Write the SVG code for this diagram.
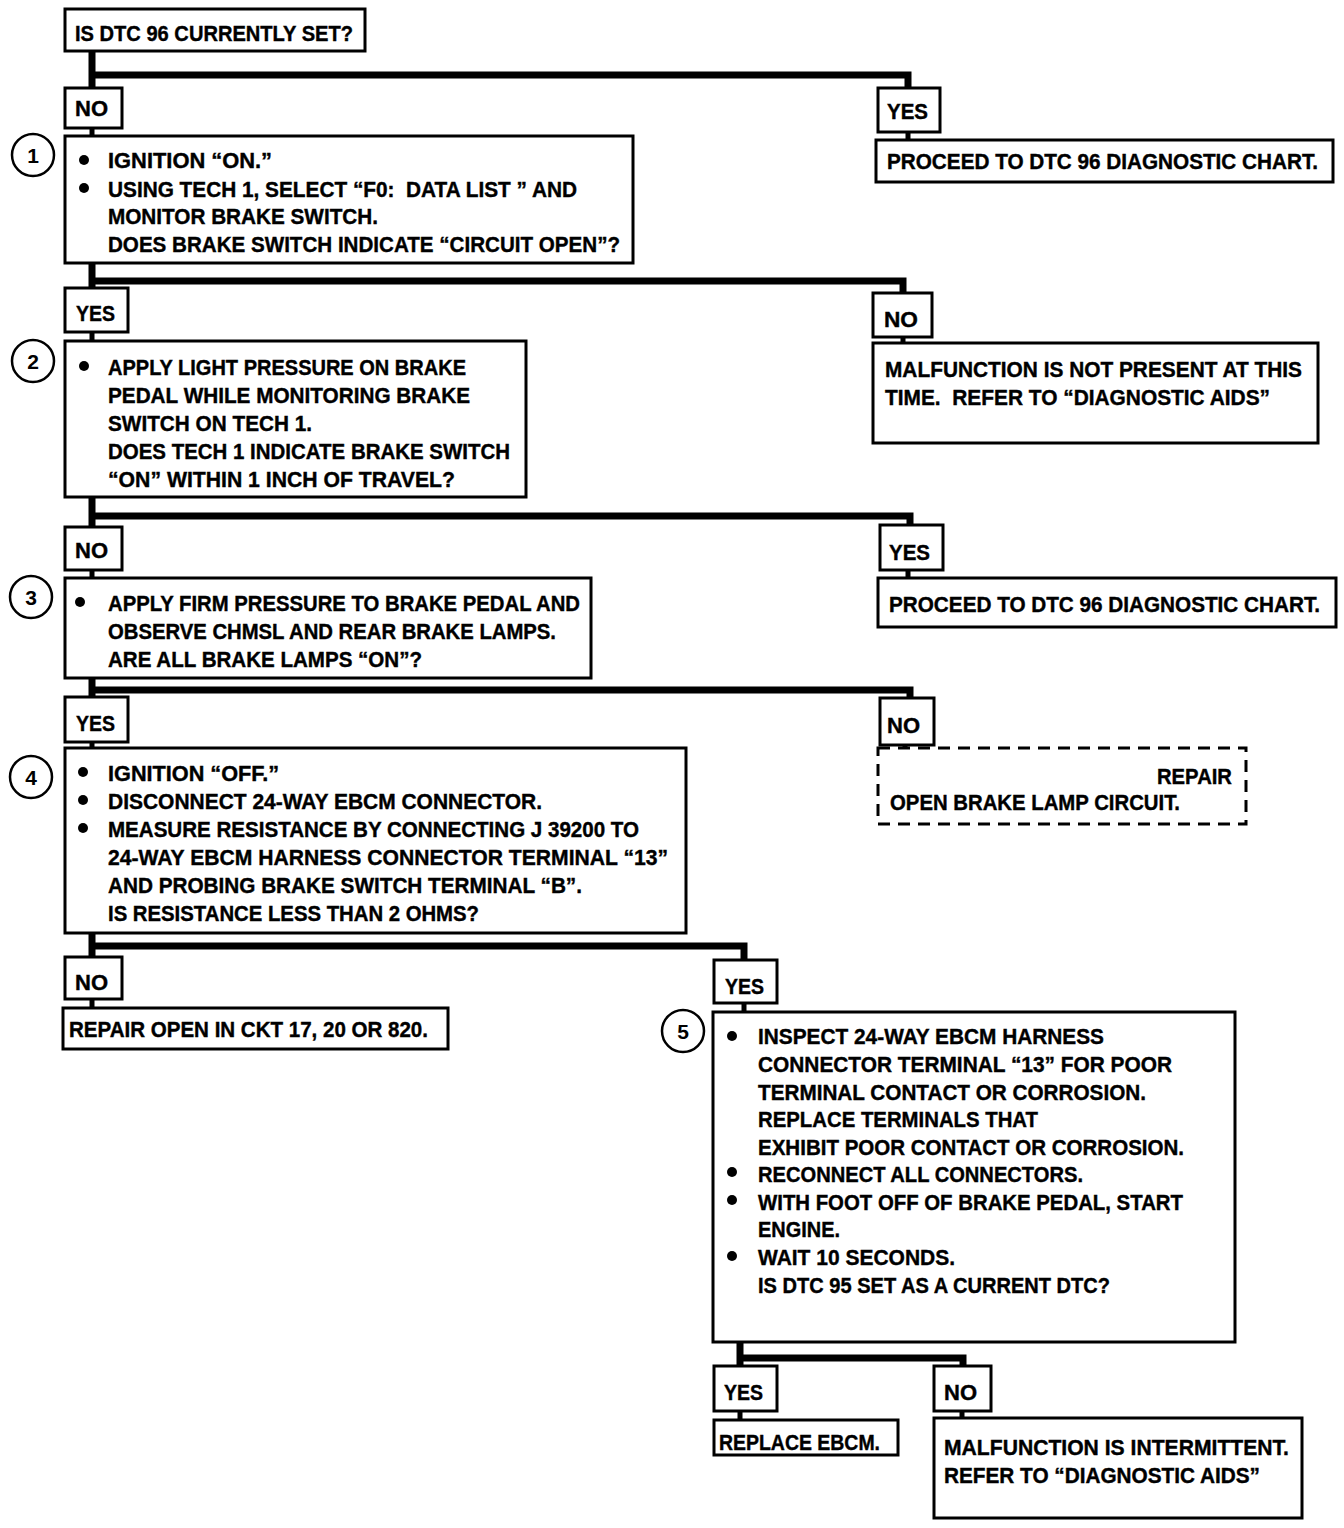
<svg xmlns="http://www.w3.org/2000/svg" width="1344" height="1528" viewBox="0 0 1344 1528">
<style>
.box{fill:#fff;stroke:#000;stroke-width:3}
.dash{fill:#fff;stroke:#000;stroke-width:3;stroke-dasharray:12 8}
.t{font-family:"Liberation Sans",Arial,sans-serif;font-weight:bold;font-size:22px;fill:#000;stroke:#000;stroke-width:0.4}
.n{font-family:"Liberation Sans",Arial,sans-serif;font-weight:bold;font-size:21px;fill:#000;text-anchor:middle}
.c{fill:#fff;stroke:#000;stroke-width:2.5}
.b{fill:#000}
.w{fill:none;stroke:#000;stroke-width:7;stroke-linecap:square}
.w2{fill:none;stroke:#000;stroke-width:5}
</style>
<rect width="1344" height="1528" fill="#fff"/>
<g id="connectors">
<path class="w" d="M92 51V88M92 75H908V88"/>
<path class="w2" d="M92 128V136M908 132V140"/>
<path class="w" d="M92 263V288M92 281H903V293"/>
<path class="w2" d="M92 332V341M903 337V343"/>
<path class="w" d="M92 497V527M92 516H910V525"/>
<path class="w2" d="M92 570V578M908 570V578"/>
<path class="w" d="M92 678V697M92 690H910V698"/>
<path class="w2" d="M92 742V748M905 745V748"/>
<path class="w" d="M92 933V957M92 946H744V960"/>
<path class="w2" d="M92 999V1008M744 1003V1012"/>
<path class="w" d="M740 1342V1366M740 1358H963V1366"/>
<path class="w2" d="M740 1411V1420M962 1411V1418"/>
</g>
<g id="start">
<rect class="box" x="65" y="9" width="300" height="42"/>
<text class="t" x="75" y="41" textLength="278" lengthAdjust="spacingAndGlyphs">IS DTC 96 CURRENTLY SET?</text>
</g>
<g id="no1">
<rect class="box" x="65" y="88" width="57" height="40"/>
<text class="t" x="75" y="116" textLength="33" lengthAdjust="spacingAndGlyphs">NO</text>
</g>
<g id="yes1">
<rect class="box" x="878" y="88" width="62" height="44"/>
<text class="t" x="887" y="119" textLength="41" lengthAdjust="spacingAndGlyphs">YES</text>
</g>
<g id="proceed1">
<rect class="box" x="876" y="140" width="457" height="42"/>
<text class="t" x="887" y="169" textLength="431" lengthAdjust="spacingAndGlyphs">PROCEED TO DTC 96 DIAGNOSTIC CHART.</text>
</g>
<g id="step1">
<circle class="c" cx="33" cy="155" r="21"/>
<text class="n" x="33" y="163">1</text>
<rect class="box" x="65" y="136" width="568" height="127"/>
<circle class="b" cx="84" cy="160" r="5"/>
<circle class="b" cx="84" cy="188" r="5"/>
<text class="t" x="108" y="168" textLength="164" lengthAdjust="spacingAndGlyphs">IGNITION “ON.”</text>
<text class="t" x="108" y="197" textLength="469" lengthAdjust="spacingAndGlyphs" xml:space="preserve">USING TECH 1, SELECT “F0:  DATA LIST ” AND</text>
<text class="t" x="108" y="224" textLength="270" lengthAdjust="spacingAndGlyphs">MONITOR BRAKE SWITCH.</text>
<text class="t" x="108" y="252" textLength="512" lengthAdjust="spacingAndGlyphs">DOES BRAKE SWITCH INDICATE “CIRCUIT OPEN”?</text>
</g>
<g id="yes2">
<rect class="box" x="65" y="288" width="63" height="44"/>
<text class="t" x="76" y="321" textLength="39" lengthAdjust="spacingAndGlyphs">YES</text>
</g>
<g id="no2">
<rect class="box" x="873" y="293" width="59" height="44"/>
<text class="t" x="884" y="327" textLength="34" lengthAdjust="spacingAndGlyphs">NO</text>
</g>
<g id="malfunction1">
<rect class="box" x="873" y="343" width="445" height="100"/>
<text class="t" x="885" y="377" textLength="417" lengthAdjust="spacingAndGlyphs">MALFUNCTION IS NOT PRESENT AT THIS</text>
<text class="t" x="885" y="405" textLength="385" lengthAdjust="spacingAndGlyphs" xml:space="preserve">TIME.  REFER TO “DIAGNOSTIC AIDS”</text>
</g>
<g id="step2">
<circle class="c" cx="33" cy="361" r="21"/>
<text class="n" x="33" y="369">2</text>
<rect class="box" x="65" y="341" width="461" height="156"/>
<circle class="b" cx="84" cy="366" r="5"/>
<text class="t" x="108" y="375" textLength="358" lengthAdjust="spacingAndGlyphs">APPLY LIGHT PRESSURE ON BRAKE</text>
<text class="t" x="108" y="403" textLength="362" lengthAdjust="spacingAndGlyphs">PEDAL WHILE MONITORING BRAKE</text>
<text class="t" x="108" y="431" textLength="204" lengthAdjust="spacingAndGlyphs">SWITCH ON TECH 1.</text>
<text class="t" x="108" y="459" textLength="402" lengthAdjust="spacingAndGlyphs">DOES TECH 1 INDICATE BRAKE SWITCH</text>
<text class="t" x="108" y="487" textLength="347" lengthAdjust="spacingAndGlyphs">“ON” WITHIN 1 INCH OF TRAVEL?</text>
</g>
<g id="no3">
<rect class="box" x="65" y="527" width="57" height="43"/>
<text class="t" x="75" y="558" textLength="33" lengthAdjust="spacingAndGlyphs">NO</text>
</g>
<g id="yes3">
<rect class="box" x="880" y="525" width="63" height="45"/>
<text class="t" x="889" y="560" textLength="41" lengthAdjust="spacingAndGlyphs">YES</text>
</g>
<g id="proceed2">
<rect class="box" x="878" y="578" width="458" height="49"/>
<text class="t" x="889" y="612" textLength="431" lengthAdjust="spacingAndGlyphs">PROCEED TO DTC 96 DIAGNOSTIC CHART.</text>
</g>
<g id="step3">
<circle class="c" cx="31" cy="597" r="21"/>
<text class="n" x="31" y="605">3</text>
<rect class="box" x="65" y="578" width="526" height="100"/>
<circle class="b" cx="80" cy="602" r="5"/>
<text class="t" x="108" y="611" textLength="472" lengthAdjust="spacingAndGlyphs">APPLY FIRM PRESSURE TO BRAKE PEDAL AND</text>
<text class="t" x="108" y="639" textLength="448" lengthAdjust="spacingAndGlyphs">OBSERVE CHMSL AND REAR BRAKE LAMPS.</text>
<text class="t" x="108" y="667" textLength="314" lengthAdjust="spacingAndGlyphs">ARE ALL BRAKE LAMPS “ON”?</text>
</g>
<g id="yes4">
<rect class="box" x="65" y="697" width="63" height="45"/>
<text class="t" x="76" y="731" textLength="39" lengthAdjust="spacingAndGlyphs">YES</text>
</g>
<g id="no4">
<rect class="box" x="880" y="698" width="54" height="47"/>
<text class="t" x="887" y="733" textLength="33" lengthAdjust="spacingAndGlyphs">NO</text>
</g>
<g id="repair-lamp">
<rect class="dash" x="878" y="748" width="368" height="76"/>
<text class="t" x="1157" y="784" textLength="75" lengthAdjust="spacingAndGlyphs">REPAIR</text>
<text class="t" x="890" y="810" textLength="290" lengthAdjust="spacingAndGlyphs">OPEN BRAKE LAMP CIRCUIT.</text>
</g>
<g id="step4">
<circle class="c" cx="31" cy="777" r="21"/>
<text class="n" x="31" y="785">4</text>
<rect class="box" x="65" y="748" width="621" height="185"/>
<circle class="b" cx="83" cy="772" r="5"/>
<circle class="b" cx="83" cy="800" r="5"/>
<circle class="b" cx="83" cy="828" r="5"/>
<text class="t" x="108" y="781" textLength="171" lengthAdjust="spacingAndGlyphs">IGNITION “OFF.”</text>
<text class="t" x="108" y="809" textLength="434" lengthAdjust="spacingAndGlyphs">DISCONNECT 24-WAY EBCM CONNECTOR.</text>
<text class="t" x="108" y="837" textLength="531" lengthAdjust="spacingAndGlyphs">MEASURE RESISTANCE BY CONNECTING J 39200 TO</text>
<text class="t" x="108" y="865" textLength="560" lengthAdjust="spacingAndGlyphs">24-WAY EBCM HARNESS CONNECTOR TERMINAL “13”</text>
<text class="t" x="108" y="893" textLength="474" lengthAdjust="spacingAndGlyphs">AND PROBING BRAKE SWITCH TERMINAL “B”.</text>
<text class="t" x="108" y="921" textLength="371" lengthAdjust="spacingAndGlyphs">IS RESISTANCE LESS THAN 2 OHMS?</text>
</g>
<g id="no5">
<rect class="box" x="65" y="957" width="57" height="42"/>
<text class="t" x="75" y="990" textLength="33" lengthAdjust="spacingAndGlyphs">NO</text>
</g>
<g id="repair-ckt">
<rect class="box" x="63" y="1008" width="385" height="41"/>
<text class="t" x="69" y="1037" textLength="359" lengthAdjust="spacingAndGlyphs">REPAIR OPEN IN CKT 17, 20 OR 820.</text>
</g>
<g id="yes5">
<rect class="box" x="714" y="960" width="63" height="43"/>
<text class="t" x="725" y="994" textLength="39" lengthAdjust="spacingAndGlyphs">YES</text>
</g>
<g id="step5">
<circle class="c" cx="683" cy="1031" r="21"/>
<text class="n" x="683" y="1039">5</text>
<rect class="box" x="713" y="1012" width="522" height="330"/>
<circle class="b" cx="732" cy="1036" r="5"/>
<circle class="b" cx="732" cy="1172" r="5"/>
<circle class="b" cx="732" cy="1200" r="5"/>
<circle class="b" cx="732" cy="1256" r="5"/>
<text class="t" x="758" y="1044" textLength="346" lengthAdjust="spacingAndGlyphs">INSPECT 24-WAY EBCM HARNESS</text>
<text class="t" x="758" y="1072" textLength="414" lengthAdjust="spacingAndGlyphs">CONNECTOR TERMINAL “13” FOR POOR</text>
<text class="t" x="758" y="1100" textLength="388" lengthAdjust="spacingAndGlyphs">TERMINAL CONTACT OR CORROSION.</text>
<text class="t" x="758" y="1127" textLength="280" lengthAdjust="spacingAndGlyphs">REPLACE TERMINALS THAT</text>
<text class="t" x="758" y="1155" textLength="426" lengthAdjust="spacingAndGlyphs">EXHIBIT POOR CONTACT OR CORROSION.</text>
<text class="t" x="758" y="1182" textLength="325" lengthAdjust="spacingAndGlyphs">RECONNECT ALL CONNECTORS.</text>
<text class="t" x="758" y="1210" textLength="425" lengthAdjust="spacingAndGlyphs">WITH FOOT OFF OF BRAKE PEDAL, START</text>
<text class="t" x="758" y="1237" textLength="82" lengthAdjust="spacingAndGlyphs">ENGINE.</text>
<text class="t" x="758" y="1265" textLength="197" lengthAdjust="spacingAndGlyphs">WAIT 10 SECONDS.</text>
<text class="t" x="758" y="1293" textLength="352" lengthAdjust="spacingAndGlyphs">IS DTC 95 SET AS A CURRENT DTC?</text>
</g>
<g id="yes6">
<rect class="box" x="714" y="1366" width="63" height="45"/>
<text class="t" x="724" y="1400" textLength="39" lengthAdjust="spacingAndGlyphs">YES</text>
</g>
<g id="no6">
<rect class="box" x="934" y="1366" width="57" height="45"/>
<text class="t" x="944" y="1400" textLength="33" lengthAdjust="spacingAndGlyphs">NO</text>
</g>
<g id="replace-ebcm">
<rect class="box" x="714" y="1420" width="184" height="35"/>
<text class="t" x="719" y="1450" textLength="161" lengthAdjust="spacingAndGlyphs">REPLACE EBCM.</text>
</g>
<g id="malfunction2">
<rect class="box" x="934" y="1418" width="368" height="100"/>
<text class="t" x="944" y="1455" textLength="345" lengthAdjust="spacingAndGlyphs">MALFUNCTION IS INTERMITTENT.</text>
<text class="t" x="944" y="1483" textLength="316" lengthAdjust="spacingAndGlyphs">REFER TO “DIAGNOSTIC AIDS”</text>
</g>
</svg>
